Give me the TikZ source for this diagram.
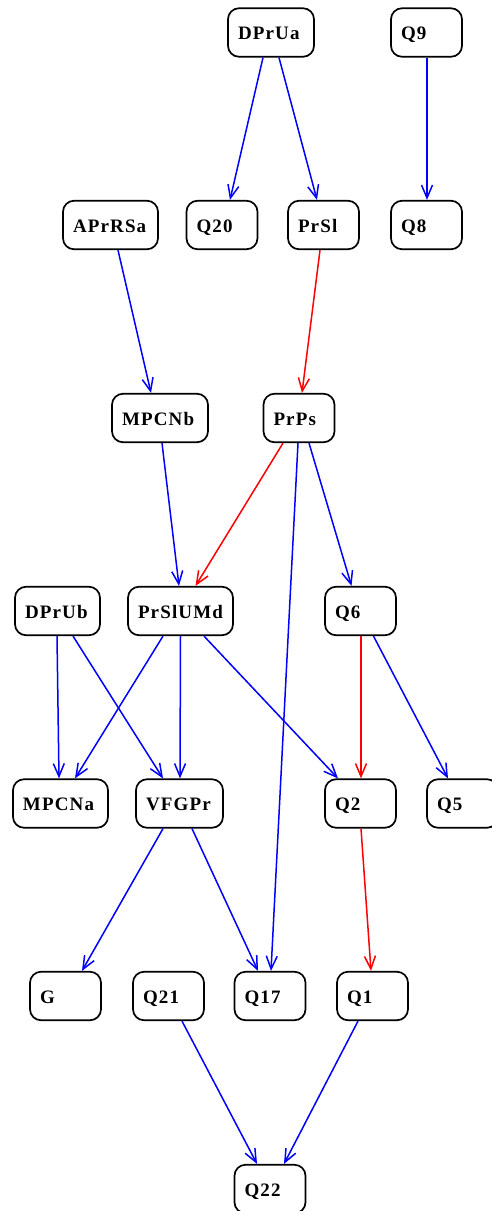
\documentclass[tikz,border=0pt]{standalone}
\usepackage{fontspec}
\setmainfont{Liberation Serif}[LetterSpace=6]
\usetikzlibrary{arrows.meta}
\begin{document}
\begin{tikzpicture}[x=1pt, y=-1pt,
  state/.style={draw, line width=1.7pt, rounded corners=11pt,
    minimum height=48.5pt, text width=#1, align=left,
    inner xsep=10pt, inner ysep=0pt, text height=14.7pt, text depth=0pt,
    font=\fontsize{19}{22}\selectfont\bfseries},
  state/.default=51pt,
  flow/.style={line width=1.5pt, blue, -{Straight Barb[length=13pt,width=11pt,line width=1.5pt]}},
  hot/.style={flow, red}]
\useasboundingbox (0,0) rectangle (492,1211);

% rank 1
\node[state=66pt] (DPrUa) at (271,32.5) {DPrUa};
\node[state] (Q9) at (426.5,32.5) {Q9};
% rank 2
\node[state=75pt] (APrRSa) at (110.5,225) {APrRSa};
\node[state] (Q20) at (222,225) {Q20};
\node[state] (PrSl) at (323.5,225) {PrSl};
\node[state] (Q8) at (426.5,225) {Q8};
% rank 3
\node[state=76pt] (MPCNb) at (160,418) {MPCNb};
\node[state] (PrPs) at (299,418) {PrPs};
% rank 4
\node[state=65pt] (DPrUb) at (57.5,611) {DPrUb};
\node[state=85pt] (PrSlUMd) at (180.5,611) {PrSlUMd};
\node[state] (Q6) at (360.5,611) {Q6};
% rank 5
\node[state=75pt] (MPCNa) at (60.5,803.5) {MPCNa};
\node[state=67pt] (VFGPr) at (179.5,803.5) {VFGPr};
\node[state] (Q2) at (360.5,803.5) {Q2};
\node[state] (Q5) at (462.5,803.5) {Q5};
% rank 6
\node[state] (G) at (65.5,996) {G};
\node[state] (Q21) at (168.5,996) {Q21};
\node[state] (Q17) at (270,996) {Q17};
\node[state] (Q1) at (372.5,996) {Q1};
% rank 7
\node[state] (Q22) at (270,1189) {Q22};

% connectors
\draw[flow] ([xshift=-8pt]DPrUa.south) -- ([xshift=8pt]Q20.north);
\draw[flow] ([xshift=8pt]DPrUa.south) -- ([xshift=-6.5pt]PrSl.north);
\draw[flow] ([xshift=0.5pt]Q9.south) -- ([xshift=0.5pt]Q8.north);
\draw[flow] ([xshift=7.5pt]APrRSa.south) -- ([xshift=-9pt]MPCNb.north);
\draw[hot] ([xshift=-3.5pt]PrSl.south) -- ([xshift=3pt]PrPs.north);
\draw[flow] ([xshift=2pt]MPCNb.south) -- ([xshift=-1.5pt]PrSlUMd.north);
\draw[hot] ([xshift=-16pt]PrPs.south) -- ([xshift=15pt]PrSlUMd.north);
\draw[flow] ([xshift=-1pt]PrPs.south) -- ([xshift=1pt]Q17.north);
\draw[flow] ([xshift=10pt]PrPs.south) -- ([xshift=-9pt]Q6.north);
\draw[flow] ([xshift=-0.5pt]DPrUb.south) -- ([xshift=-1.5pt]MPCNa.north);
\draw[flow] ([xshift=15.5pt]DPrUb.south) -- ([xshift=-16.5pt]VFGPr.north);
\draw[flow] ([xshift=-17.5pt]PrSlUMd.south) -- ([xshift=14.5pt]MPCNa.north);
\draw[flow] ([xshift=0pt]PrSlUMd.south) -- ([xshift=0.5pt]VFGPr.north);
\draw[flow] ([xshift=23.5pt]PrSlUMd.south) -- ([xshift=-22.5pt]Q2.north);
\draw[hot] ([xshift=0.5pt]Q6.south) -- ([xshift=0.5pt]Q2.north);
\draw[flow] ([xshift=13pt]Q6.south) -- ([xshift=-14.5pt]Q5.north);
\draw[flow] ([xshift=-16.5pt]VFGPr.south) -- ([xshift=16.5pt]G.north);
\draw[flow] ([xshift=12.5pt]VFGPr.south) -- ([xshift=-12pt]Q17.north);
\draw[hot] ([xshift=0.5pt]Q2.south) -- ([xshift=-1.5pt]Q1.north);
\draw[flow] ([xshift=13.5pt]Q21.south) -- ([xshift=-13pt]Q22.north);
\draw[flow] ([xshift=-14.5pt]Q1.south) -- ([xshift=14pt]Q22.north);
\end{tikzpicture}
\end{document}
